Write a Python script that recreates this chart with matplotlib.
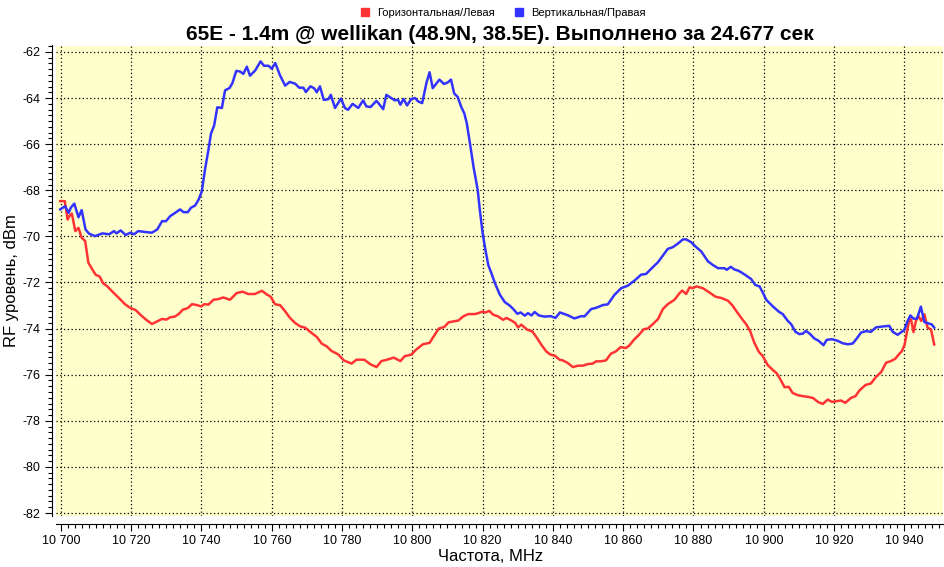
import matplotlib
matplotlib.use("Agg")
import matplotlib.pyplot as plt
from matplotlib.ticker import MultipleLocator, FuncFormatter
from matplotlib.lines import Line2D

# Горизонтальная/Левая (red)
freq_h = [
    10699.8, 10701.1, 10701.9, 10702.4, 10703.1, 10704.1, 10705.0, 10705.9, 10706.9, 10707.8,
    10708.8, 10709.9, 10711.0, 10712.0, 10713.2, 10714.6, 10716.0, 10717.0, 10718.2, 10719.8,
    10721.2, 10722.9, 10724.2, 10725.9, 10727.2, 10728.8, 10730.0, 10731.1, 10732.4, 10733.5,
    10734.7, 10736.1, 10737.3, 10738.7, 10739.9, 10740.8, 10742.0, 10743.4, 10744.8, 10746.2,
    10748.1, 10750.0, 10751.7, 10753.3, 10755.2, 10757.2, 10758.6, 10759.7, 10760.9, 10762.4,
    10763.8, 10765.2, 10766.6, 10768.0, 10769.5, 10770.9, 10772.8, 10774.2, 10775.6, 10777.0,
    10778.9, 10780.5, 10782.7, 10784.1, 10786.3, 10788.1, 10789.8, 10791.2, 10792.8, 10794.7,
    10796.6, 10797.8, 10799.7, 10801.1, 10803.0, 10804.9, 10806.3, 10807.5, 10809.1, 10810.3,
    10811.7, 10813.1, 10814.5, 10815.9, 10817.8, 10818.8, 10820.0, 10820.9, 10821.9, 10823.0,
    10824.4, 10825.8, 10826.8, 10828.2, 10829.3, 10830.1, 10831.0, 10832.7, 10834.1, 10835.3,
    10836.7, 10838.1, 10839.3, 10840.5, 10841.9, 10842.8, 10844.2, 10845.7, 10847.1, 10848.5,
    10849.9, 10851.3, 10852.3, 10853.7, 10855.1, 10856.5, 10857.9, 10859.2, 10860.8, 10861.7,
    10863.1, 10864.5, 10865.9, 10867.0, 10868.4, 10869.9, 10871.3, 10872.7, 10874.6, 10876.0,
    10876.8, 10877.9, 10878.9, 10879.8, 10880.8, 10882.7, 10884.5, 10886.3, 10887.9, 10889.8,
    10891.0, 10892.6, 10894.0, 10895.0, 10896.2, 10897.3, 10898.6, 10899.7, 10901.1, 10902.6,
    10903.7, 10904.9, 10905.9, 10907.1, 10908.2, 10909.7, 10911.1, 10912.5, 10914.0, 10915.4,
    10916.8, 10918.2, 10919.4, 10920.8, 10922.0, 10923.2, 10924.8, 10926.1, 10927.2, 10928.9,
    10930.5, 10931.9, 10933.4, 10934.8, 10936.2, 10937.4, 10938.6, 10939.3, 10940.1, 10940.7,
    10941.4, 10941.9, 10942.6, 10943.3, 10944.0, 10944.8, 10945.7, 10946.6, 10947.6, 10948.5,
]
level_h = [
    -68.47, -68.47, -69.27, -69.12, -69.01, -69.77, -69.63, -70.06, -70.20, -71.14,
    -71.40, -71.67, -71.74, -72.03, -72.17, -72.39, -72.60, -72.75, -72.94, -73.11,
    -73.19, -73.44, -73.61, -73.80, -73.70, -73.58, -73.61, -73.51, -73.48, -73.37,
    -73.18, -73.11, -72.94, -72.98, -73.04, -72.94, -72.96, -72.75, -72.72, -72.65,
    -72.75, -72.46, -72.40, -72.50, -72.50, -72.36, -72.52, -72.62, -72.94, -72.99,
    -73.25, -73.54, -73.75, -73.90, -73.96, -74.14, -74.36, -74.65, -74.77, -74.97,
    -75.12, -75.38, -75.52, -75.35, -75.35, -75.55, -75.67, -75.41, -75.35, -75.26,
    -75.41, -75.20, -75.13, -74.91, -74.68, -74.62, -74.29, -74.00, -73.93, -73.73,
    -73.69, -73.65, -73.47, -73.37, -73.37, -73.33, -73.26, -73.30, -73.23, -73.40,
    -73.47, -73.62, -73.54, -73.65, -73.76, -73.95, -73.83, -74.05, -74.12, -74.37,
    -74.70, -74.99, -75.13, -75.17, -75.35, -75.38, -75.49, -75.67, -75.61, -75.61,
    -75.54, -75.52, -75.42, -75.42, -75.38, -75.09, -74.99, -74.81, -74.84, -74.74,
    -74.48, -74.27, -74.02, -74.00, -73.81, -73.59, -73.15, -72.94, -72.75, -72.47,
    -72.35, -72.50, -72.21, -72.25, -72.17, -72.25, -72.43, -72.62, -72.67, -72.79,
    -72.98, -73.33, -73.62, -73.81, -74.14, -74.61, -75.01, -75.19, -75.58, -75.80,
    -75.94, -76.25, -76.54, -76.53, -76.79, -76.89, -76.93, -76.96, -77.01, -77.18,
    -77.27, -77.08, -77.18, -77.15, -77.12, -77.22, -77.01, -76.93, -76.69, -76.45,
    -76.38, -76.10, -75.89, -75.48, -75.41, -75.31, -75.09, -74.98, -74.69, -74.18,
    -73.60, -73.60, -74.15, -73.67, -73.45, -73.67, -73.38, -73.96, -74.04, -74.69,
]

# Вертикальная/Правая (blue)
freq_v = [
    10699.8, 10701.2, 10702.2, 10702.8, 10703.8, 10705.0, 10705.9, 10707.0, 10708.0, 10709.7,
    10711.8, 10713.7, 10715.1, 10715.8, 10717.0, 10718.4, 10719.8, 10720.8, 10722.0, 10724.0,
    10725.9, 10727.4, 10728.8, 10729.9, 10731.1, 10732.5, 10733.9, 10734.9, 10736.1, 10737.0,
    10738.2, 10739.2, 10740.1, 10741.0, 10742.0, 10742.7, 10743.6, 10744.5, 10745.8, 10746.7,
    10748.0, 10748.8, 10749.9, 10751.0, 10751.9, 10752.9, 10753.8, 10755.3, 10756.8, 10757.8,
    10759.1, 10760.0, 10761.0, 10762.3, 10763.8, 10765.1, 10766.7, 10767.8, 10769.0, 10769.7,
    10771.0, 10772.1, 10772.8, 10773.7, 10774.8, 10776.1, 10776.8, 10778.0, 10779.7, 10780.8,
    10781.7, 10783.0, 10784.6, 10786.0, 10786.9, 10788.1, 10789.8, 10791.7, 10792.6, 10794.0,
    10795.0, 10795.9, 10796.6, 10797.5, 10798.5, 10799.7, 10800.8, 10801.6, 10802.8, 10804.0,
    10804.9, 10805.8, 10807.7, 10809.0, 10810.1, 10811.0, 10811.9, 10812.9, 10813.9, 10814.8,
    10815.5, 10816.4, 10817.4, 10818.6, 10819.2, 10820.0, 10820.8, 10821.6, 10822.5, 10823.5,
    10824.9, 10826.3, 10827.7, 10828.7, 10829.9, 10830.8, 10832.0, 10832.9, 10833.9, 10834.8,
    10836.0, 10837.6, 10839.4, 10840.7, 10842.0, 10844.2, 10846.1, 10848.1, 10849.0, 10850.9,
    10852.3, 10854.2, 10855.6, 10857.5, 10859.4, 10861.3, 10863.2, 10865.1, 10866.5, 10868.4,
    10869.9, 10871.3, 10872.7, 10874.1, 10875.5, 10877.0, 10877.9, 10879.3, 10880.8, 10882.2,
    10884.1, 10885.5, 10887.0, 10888.8, 10889.5, 10890.6, 10891.7, 10892.6, 10893.6, 10895.0,
    10896.4, 10897.6, 10898.8, 10899.7, 10900.7, 10902.6, 10904.3, 10905.4, 10906.8, 10907.8,
    10909.0, 10910.1, 10911.1, 10912.0, 10913.2, 10914.4, 10915.6, 10917.0, 10917.9, 10919.4,
    10921.0, 10922.5, 10923.9, 10925.3, 10926.3, 10927.7, 10929.1, 10930.5, 10931.9, 10933.8,
    10935.7, 10936.7, 10938.1, 10940.0, 10940.7, 10941.7, 10942.6, 10943.6, 10944.7, 10945.7,
    10946.8, 10947.8, 10948.5,
]
level_v = [
    -68.83, -68.69, -68.98, -68.76, -68.58, -69.17, -68.86, -69.70, -69.88, -69.99,
    -69.87, -69.91, -69.77, -69.87, -69.74, -69.94, -69.84, -69.91, -69.77, -69.81,
    -69.84, -69.70, -69.34, -69.34, -69.12, -68.98, -68.83, -68.95, -68.95, -68.76,
    -68.66, -68.40, -68.04, -67.10, -66.23, -65.54, -65.19, -64.40, -64.43, -63.67,
    -63.56, -63.35, -62.82, -62.85, -62.95, -62.64, -63.03, -62.80, -62.41, -62.60,
    -62.60, -62.73, -62.48, -63.00, -63.46, -63.30, -63.38, -63.55, -63.55, -63.74,
    -63.49, -63.58, -63.75, -63.49, -64.08, -64.05, -63.86, -64.43, -64.02, -64.43,
    -64.51, -64.25, -64.43, -64.10, -64.36, -64.39, -64.12, -64.48, -63.86, -64.00,
    -64.10, -64.07, -64.29, -64.04, -64.32, -64.04, -64.00, -64.14, -64.22, -63.35,
    -62.88, -63.57, -63.20, -63.39, -63.32, -63.20, -63.80, -63.95, -64.38, -64.67,
    -65.10, -65.97, -66.98, -67.99, -68.85, -69.86, -70.59, -71.24, -71.60, -72.03,
    -72.53, -72.85, -73.00, -73.15, -73.36, -73.30, -73.44, -73.33, -73.43, -73.28,
    -73.43, -73.48, -73.46, -73.54, -73.30, -73.42, -73.56, -73.46, -73.47, -73.15,
    -73.10, -72.98, -72.95, -72.54, -72.25, -72.14, -71.92, -71.66, -71.63, -71.34,
    -71.12, -70.83, -70.54, -70.47, -70.32, -70.13, -70.13, -70.25, -70.47, -70.65,
    -71.08, -71.24, -71.38, -71.38, -71.45, -71.32, -71.44, -71.48, -71.56, -71.70,
    -71.85, -72.11, -72.17, -72.43, -72.75, -73.04, -73.27, -73.37, -73.66, -73.81,
    -74.14, -74.24, -74.22, -74.10, -74.24, -74.43, -74.53, -74.72, -74.49, -74.46,
    -74.53, -74.64, -74.68, -74.65, -74.46, -74.17, -74.11, -74.14, -73.95, -73.91,
    -73.88, -74.14, -74.27, -74.06, -73.75, -73.43, -73.57, -73.57, -73.05, -73.72,
    -73.77, -73.82, -73.96,
]

series_names = ["Горизонтальная/Левая", "Вертикальная/Правая"]
title = "65E - 1.4m @ wellikan (48.9N, 38.5E). Выполнено за 24.677 сек"

RED = "#ff3333"
BLUE = "#3333ff"

plt.rcParams["font.family"] = ["Liberation Sans", "DejaVu Sans"]
plt.rcParams["axes.unicode_minus"] = False

fig = plt.figure(figsize=(9.45, 5.67), dpi=100)
ax = fig.add_axes([56 / 945, 1 - 516 / 567, 887 / 945, 470.5 / 567])
ax.set_facecolor("#ffffcc")

ax.plot(freq_h, level_h, color=RED, lw=1.8)
ax.plot(freq_v, level_v, color=BLUE, lw=1.8)

ax.set_xlim(10698.6, 10951.0)
ax.set_ylim(-82.13, -61.72)

ax.xaxis.set_major_locator(MultipleLocator(20))
ax.xaxis.set_minor_locator(MultipleLocator(2))
ax.yaxis.set_major_locator(MultipleLocator(2))
ax.yaxis.set_minor_locator(MultipleLocator(0.25))
ax.xaxis.set_major_formatter(FuncFormatter(lambda v, p: f"{int(round(v)):,}".replace(",", " ")))
ax.yaxis.set_major_formatter(FuncFormatter(lambda v, p: f"{int(round(v))}"))

ax.grid(True, which="major", color="black", linestyle=(0, (1, 2)), linewidth=0.9)

for s in ("top", "right"):
    ax.spines[s].set_visible(False)
ax.spines["left"].set_position(("outward", 3))
ax.spines["bottom"].set_position(("outward", 6))
ax.tick_params(which="major", length=5, width=0.8, labelsize=9, direction="out")
ax.tick_params(which="minor", length=3, width=0.8, direction="out")
ax.tick_params(axis="x", pad=3)

ax.set_xlabel("Частота, MHz", fontsize=12)
ax.set_ylabel("RF уровень, dBm", fontsize=12)
ax.xaxis.set_label_coords(0.49, -0.07)
ax.yaxis.set_label_coords(-37 / 887, 0.5)
ax.set_title(title, fontsize=15, fontweight="bold", pad=4)

handles = [Line2D([], [], marker="s", linestyle="none", color=c, markersize=6)
           for c in (RED, BLUE)]
fig.legend(handles, series_names, loc="upper center", bbox_to_anchor=(499.5 / 945, 1.0),
           ncol=2, frameon=False, fontsize=8, handletextpad=0.1, columnspacing=1.2,
           borderaxespad=0.3)

fig.savefig("out.png", dpi=100)
